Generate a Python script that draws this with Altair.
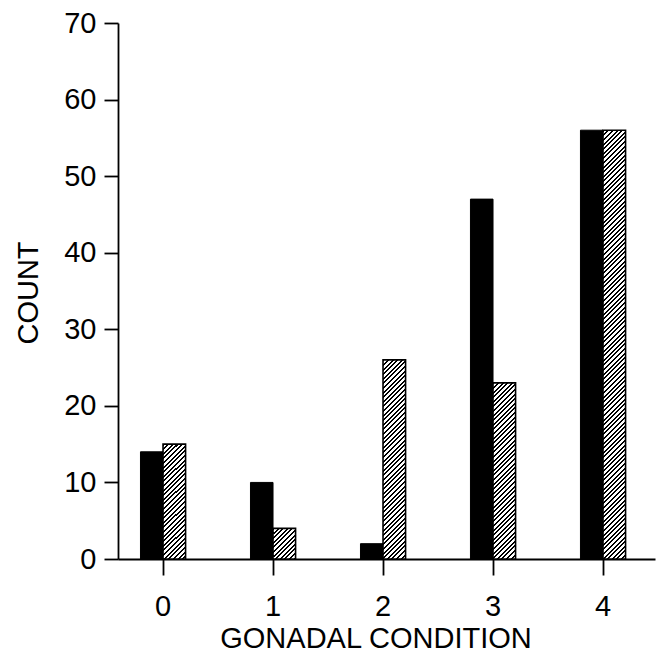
import altair as alt
import pandas as pd

conditions = ["0", "1", "2", "3", "4"]
solid_counts = [14, 10, 2, 47, 56]
hatched_counts = [15, 4, 26, 23, 56]
series_names = ["solid", "hatched"]

PLOT_W, PLOT_H = 537, 536
Y_MAX = 70
FONT = "Liberation Sans"

rows = []
for c, s, h in zip(conditions, solid_counts, hatched_counts):
    rows.append({"cond": c, "series": "solid", "count": s})
    rows.append({"cond": c, "series": "hatched", "count": h})
df = pd.DataFrame(rows)

x_enc = alt.X(
    "cond:N",
    sort=conditions,
    scale=alt.Scale(paddingInner=0.59, paddingOuter=0.236, align=0.433),
    axis=alt.Axis(
        title="GONADAL CONDITION",
        labelAngle=0,
        labelFont=FONT, labelFontSize=29, labelColor="black",
        labelBaseline="alphabetic", labelPadding=40,
        tickSize=16, tickWidth=1.8, tickColor="black",
        domainColor="black", domainWidth=1.8,
        bandPosition=0.5,
        titleFont=FONT, titleFontSize=29, titleFontWeight="normal", titleColor="black",
        titleX=257.5, titleY=88, titleAlign="center", titleBaseline="alphabetic",
        grid=False,
    ),
)
y_enc = alt.Y(
    "count:Q",
    scale=alt.Scale(domain=[0, Y_MAX], nice=False, zero=True),
    axis=alt.Axis(
        title="COUNT",
        values=list(range(0, Y_MAX + 1, 10)),
        labelFont=FONT, labelFontSize=29, labelColor="black", labelPadding=8,
        tickSize=14, tickWidth=1.8, tickColor="black",
        domainColor="black", domainWidth=1.8,
        titleFont=FONT, titleFontSize=29, titleFontWeight="normal", titleColor="black",
        titleAngle=-90, titleX=-89.5, titleY=269.5, titleAlign="center", titleBaseline="middle",
        grid=False,
    ),
)
xo_enc = alt.XOffset("series:N", scale=alt.Scale(domain=series_names), sort=series_names)

base = alt.Chart(df).encode(x=x_enc, y=y_enc, xOffset=xo_enc)

solid_layer = base.transform_filter(alt.datum.series == "solid").mark_bar(
    fill="black", stroke="black", strokeWidth=1
)

# approximate bar width (half of band width) used to orient hatch stripes at 45 degrees
bar_w = 22.5


def hatch_gradient(v, period=4.6, dark=2.0):
    h = max(v / Y_MAX * PLOT_H, 1.0)
    L = bar_w + h
    c = L / (bar_w * bar_w + h * h)
    stops = [{"offset": 0.0, "color": "white"}]
    i = 0
    while i * period < L:
        a = i * period / L
        b = min((i * period + dark) / L, 1.0)
        stops += [
            {"offset": a, "color": "white"},
            {"offset": a, "color": "black"},
            {"offset": b, "color": "black"},
            {"offset": b, "color": "white"},
        ]
        i += 1
    stops.append({"offset": 1.0, "color": "white"})
    return {"gradient": "linear", "x1": 0, "y1": 0, "x2": c * bar_w, "y2": c * h, "stops": stops}


hatched_layers = []
for cond, v in zip(conditions, hatched_counts):
    hatched_layers.append(
        base.transform_filter(
            (alt.datum.series == "hatched") & (alt.datum.cond == cond)
        ).mark_bar(fill=hatch_gradient(v), stroke="black", strokeWidth=1.6)
    )

chart = alt.layer(solid_layer, *hatched_layers).properties(
    width=PLOT_W, height=PLOT_H,
    autosize=alt.AutoSizeParams(type="none"),
    padding={"left": 118, "top": 23, "right": 5, "bottom": 100},
    background="white",
).configure_view(stroke=None)

chart.save("out.html", embed_options={"renderer": "svg", "actions": False})
